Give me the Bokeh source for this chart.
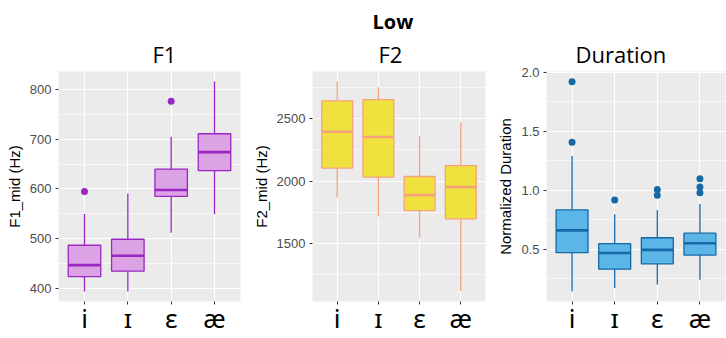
from bokeh.plotting import figure
from bokeh.layouts import row
from bokeh.models import FactorRange, Range1d, FixedTicker, Title, ColumnDataSource
from bokeh.embed import file_html
from bokeh.resources import INLINE

vowels = ["i", "ɪ", "ɛ", "æ"]

# F1 (Hz)
f1_low = [394, 394, 512, 550]
f1_q1 = [424, 435, 585, 637]
f1_med = [447, 466, 598, 674]
f1_q3 = [487, 499, 640, 711]
f1_high = [550, 591, 705, 816]
f1_out_x = ["i", "ɛ"]
f1_out_y = [595, 776]

# F2 (Hz)
f2_low = [1868, 1716, 1545, 1116]
f2_q1 = [2105, 2032, 1763, 1697]
f2_med = [2397, 2355, 1887, 1953]
f2_q3 = [2645, 2655, 2037, 2124]
f2_high = [2800, 2755, 2360, 2474]
f2_out_x = []
f2_out_y = []

# Normalized duration
du_low = [0.14, 0.17, 0.20, 0.24]
du_q1 = [0.47, 0.33, 0.375, 0.45]
du_med = [0.66, 0.467, 0.494, 0.55]
du_q3 = [0.833, 0.547, 0.597, 0.636]
du_high = [1.29, 0.797, 0.83, 0.883]
du_out_x = ["i", "i", "ɪ", "ɛ", "ɛ", "æ", "æ", "æ"]
du_out_y = [1.922, 1.408, 0.917, 1.006, 0.958, 1.097, 1.028, 0.98]


def style_title(t, offset, size="22px", bold=False, standoff=5):
    t.text_font = "Open Sans"
    t.text_font_size = size
    t.text_font_style = "bold" if bold else "normal"
    t.align = "left"
    t.offset = offset
    t.standoff = standoff
    t.text_color = "black"


def panel(title, ylabel, ymin, ymax, ticks, minor, low, q1, med, q3, high,
          ox, oy, fill, line, width, left, right, title_offset, label_fmt):
    p = figure(x_range=FactorRange(factors=vowels, range_padding=0.05),
               y_range=Range1d(ymin, ymax), width=width, height=338,
               output_backend="svg", toolbar_location=None, title=title,
               min_border_left=left, min_border_right=right,
               min_border_top=71, min_border_bottom=33)
    p.background_fill_color = "#EBEBEB"
    p.border_fill_color = "white"
    p.outline_line_color = None
    style_title(p.title, title_offset)

    p.yaxis.ticker = FixedTicker(ticks=ticks, minor_ticks=minor)
    p.yaxis.major_label_overrides = {t: label_fmt(t) for t in ticks}
    p.ygrid.ticker = FixedTicker(ticks=ticks, minor_ticks=minor)
    for ax in (p.xaxis[0], p.yaxis[0]):
        ax.axis_line_color = None
        ax.major_tick_line_color = "#333333"
        ax.major_tick_in = 0
        ax.major_tick_out = 3
        ax.minor_tick_line_color = None
    p.yaxis.major_label_text_font = "Liberation Sans"
    p.yaxis.major_label_text_font_size = "13px"
    p.yaxis.major_label_text_color = "#4D4D4D"
    p.yaxis.major_label_standoff = 3
    p.yaxis.axis_label = ylabel
    p.yaxis.axis_label_text_font = "Liberation Sans"
    p.yaxis.axis_label_text_font_size = "15px"
    p.yaxis.axis_label_text_font_style = "normal"
    p.yaxis.axis_label_text_color = "black"
    p.yaxis.axis_label_standoff = 4
    p.xaxis.major_label_text_font = "Noto Sans"
    p.xaxis.major_label_text_font_size = "26px"
    p.xaxis.major_label_text_color = "black"
    p.xaxis.major_label_standoff = -5

    p.xgrid.grid_line_color = "white"
    p.xgrid.grid_line_width = 1.2
    p.ygrid.grid_line_color = "white"
    p.ygrid.grid_line_width = 1.2
    p.ygrid.minor_grid_line_color = "white"
    p.ygrid.minor_grid_line_width = 0.6

    src = ColumnDataSource(dict(x=vowels, low=low, q1=q1, med=med, q3=q3, high=high))
    p.segment(x0="x", y0="low", x1="x", y1="q1", source=src, line_color=line, line_width=1.3)
    p.segment(x0="x", y0="q3", x1="x", y1="high", source=src, line_color=line, line_width=1.3)
    p.vbar(x="x", bottom="q1", top="q3", width=0.75, source=src,
           fill_color=fill, line_color=line, line_width=1.3)
    p.rect(x="x", y="med", width=0.75, height=2.6, height_units="screen",
           source=src, fill_color=line, line_color=None)
    if ox:
        p.scatter(x=ox, y=oy, size=7, fill_color=line, line_color=None)
    return p


p1 = panel("F1", "F1_mid (Hz)", 374, 836, [400, 500, 600, 700, 800],
           [450, 550, 650, 750], f1_low, f1_q1, f1_med, f1_q3, f1_high,
           f1_out_x, f1_out_y, "#DBA3E3", "#9B26C4", 245, 58, 5, 94,
           lambda t: str(t))
p2 = panel("Low", "F2_mid (Hz)", 1032, 2881, [1500, 2000, 2500],
           [1250, 1750, 2250, 2750], f2_low, f2_q1, f2_med, f2_q3, f2_high,
           f2_out_x, f2_out_y, "#F0E23E", "#F5A27C", 242, 67, 2, 60,
           lambda t: str(t))
p3 = panel("Duration", "Normalized Duration", 0.056, 2.008, [0.5, 1.0, 1.5, 2.0],
           [0.25, 0.75, 1.25, 1.75], du_low, du_q1, du_med, du_q3, du_high,
           du_out_x, du_out_y, "#5BB5E6", "#1769A6", 239, 59, 1, 29,
           lambda t: "%.1f" % t)

# overall heading sits on the middle panel, its own subtitle below it
style_title(p2.title, 60, size="20px", bold=True, standoff=0)
f2_title = Title(text="F2")
style_title(f2_title, 66)
p2.add_layout(f2_title, "above")

layout = row(p1, p2, p3, spacing=0)
open("out.html", "w").write(file_html(layout, INLINE))
